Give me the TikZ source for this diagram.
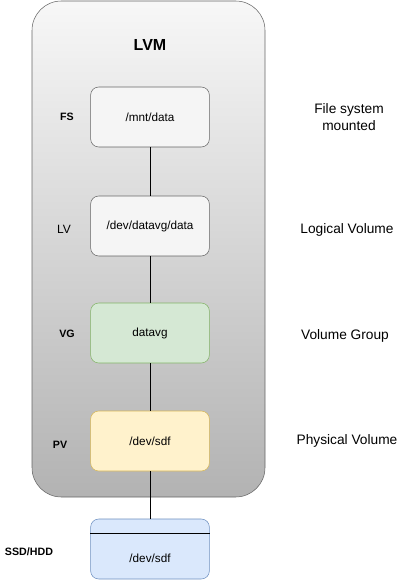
\documentclass[tikz,border=0pt]{standalone}
\usepackage{fontspec}
\setmainfont{Liberation Sans}
\usepackage{tikz}
\usetikzlibrary{positioning}
\definecolor{lvmline}{HTML}{666666}
\definecolor{vgfill}{HTML}{D5E8D4}
\definecolor{vgline}{HTML}{82B366}
\definecolor{pvfill}{HTML}{FFF2CC}
\definecolor{pvline}{HTML}{D6B656}
\definecolor{diskfill}{HTML}{DAE8FC}
\definecolor{diskline}{HTML}{6C8EBF}
\tikzstyle{Layer}=[rectangle, rounded corners=6pt, minimum width=89pt, minimum height=45pt, text centered, draw=lvmline, fill=black!4, font=\fontsize{8.8}{11}\selectfont]
\tikzstyle{Tag}=[font=\bfseries\fontsize{8}{10}\selectfont]
\tikzstyle{Note}=[align=center, font=\fontsize{10.3}{12.5}\selectfont]

\begin{document}
\begin{tikzpicture}[x=0.75pt, y=-0.75pt]
    \useasboundingbox (0,0) rectangle (403,580);
    \draw[draw=lvmline, rounded corners=22pt, top color=black!3, bottom color=black!30] (32,1) rectangle (265,497);
    \path
    (150,45) node[font=\bfseries\fontsize{12}{14}\selectfont] (title) {LVM}
    (150,117) node[Layer] (fs) {/mnt/data}
    (150,226) node[Layer] (lv) {/dev/datavg/data}
    (150,333) node[Layer, fill=vgfill, draw=vgline] (vg) {datavg}
    (150,441) node[Layer, fill=pvfill, draw=pvline] (pv) {/dev/sdf}
    (150,549) node[Layer, fill=diskfill, draw=diskline] (disk) {};
    \path (150,558) node[font=\fontsize{8.8}{11}\selectfont] (diskname) {/dev/sdf};

    \path
    (67,117) node[Tag] (fstag) {FS}
    (64,229) node[Tag, font=\fontsize{9}{11}\selectfont] (lvtag) {LV}
    (67,334) node[Tag] (vgtag) {VG}
    (60,445) node[Tag] (pvtag) {PV}
    (29,552) node[Tag] (disktag) {SSD/HDD};

    \path
    (349,117) node[Note] (fsnote) {File system\\mounted}
    (347,230) node[Note] (lvnote) {Logical Volume}
    (345,336) node[Note] (vgnote) {Volume Group}
    (347,441) node[Note] (pvnote) {Physical Volume};

    \draw (fs) -- (lv) -- (vg) -- (pv) -- (disk);
    \draw[draw=black] ([yshift=-11pt]disk.north west) -- ([yshift=-11pt]disk.north east);
\end{tikzpicture}
\end{document}
